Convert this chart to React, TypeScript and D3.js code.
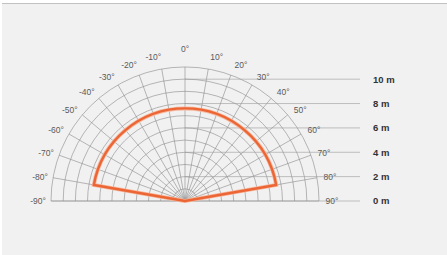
import React from 'react'
import * as d3 from 'd3'

// detection diagram values
const angleTicks = [-90, -80, -70, -60, -50, -40, -30, -20, -10, 0, 10, 20, 30, 40, 50, 60, 70, 80, 90]
const spokeAngles = [-90, -80, -70, -60, -50, -40, -30, -20, -10, 0, 10, 20, 30, 40, 50, 60, 70, 80, 90]
const ringMeters = [1, 2, 3, 4, 5, 6, 7, 8, 9, 10, 11]
const distanceTicks = [0, 2, 4, 6, 8, 10]
const distanceLabels = ['0 m', '2 m', '4 m', '6 m', '8 m', '10 m']
const zoneAngles = [-80, 80]
const zoneRange = 7.6

const width = 447
const height = 255
const cx = 185
const cy = 201

export default function App() {
    let r = d3.scaleLinear().domain([0, 11]).range([0, 134])
    let ang = d3.scaleLinear().domain([-90, 90]).range([-Math.PI / 2, Math.PI / 2])

    // compass angle (0 = up) -> screen point
    const pt = (a: number, rad: number): [number, number] => [
        cx + rad * Math.sin(ang(a)),
        cy - rad * Math.cos(ang(a)),
    ]

    const rings = ringMeters.map(m => {
        let p = d3.path()
        p.moveTo(cx - r(m), cy)
        p.arc(cx, cy, r(m), Math.PI, 2 * Math.PI)
        return p.toString()
    })

    let zone = d3.path()
    let [x0, y0] = pt(zoneAngles[0], r(zoneRange))
    zone.moveTo(cx, cy)
    zone.lineTo(x0, y0)
    zone.arc(cx, cy, r(zoneRange), ang(zoneAngles[0]) - Math.PI / 2, ang(zoneAngles[1]) - Math.PI / 2)
    zone.closePath()

    const lineEnd = 360

    return (
        <svg width={width} height={height} style={{ position: 'absolute', left: 0, top: 0 }}
            fontFamily="'Liberation Sans', Arial, sans-serif">
            <rect x={0} y={0} width={width} height={height} fill="#ffffff" />
            <rect x={2} y={3} width={width - 2} height={height - 3} fill="#f1f1f1" />
            <line x1={2} x2={width} y1={3.5} y2={3.5} stroke="#c2c2c2" strokeWidth={1} />

            <g fill="none" stroke="#8a8a8a" strokeWidth={0.6}>
                {rings.map((d, i) => <path key={i} d={d} />)}
                {spokeAngles.map(a => {
                    let [x, y] = pt(a, r(11))
                    return <line key={a} x1={cx} y1={cy} x2={x} y2={y} />
                })}
                {distanceTicks.map(m => (
                    <line key={m} x1={m === 0 ? cx - r(11) : cx} x2={lineEnd}
                        y1={cy - r(m)} y2={cy - r(m)} stroke="#9a9a9a" />
                ))}
            </g>

            <path d={zone.toString()} fill="none" stroke="#f6b79c" strokeWidth={4} strokeLinejoin="miter" />
            <path d={zone.toString()} fill="none" stroke="#ec6535" strokeWidth={2.4} strokeLinejoin="miter" />

            <g fontSize={8.5} fill="#5a5a5a" textAnchor="middle">
                {angleTicks.map(a => {
                    let off = a === 0 ? 0 : Math.sign(a) * 2.5 * Math.cos(ang(a))
                    let [x, y] = pt(a + off, 147 + (a === 0 ? 5 : 0))
                    return <text key={a} x={x} y={y} dy="0.35em">{a + '°'}</text>
                })}
            </g>

            <g fontSize={9.5} fontWeight="bold" fill="#333">
                {distanceTicks.map((m, i) => (
                    <text key={m} x={373} y={cy - r(m)} dy="0.35em">{distanceLabels[i]}</text>
                ))}
            </g>
        </svg>
    )
}
